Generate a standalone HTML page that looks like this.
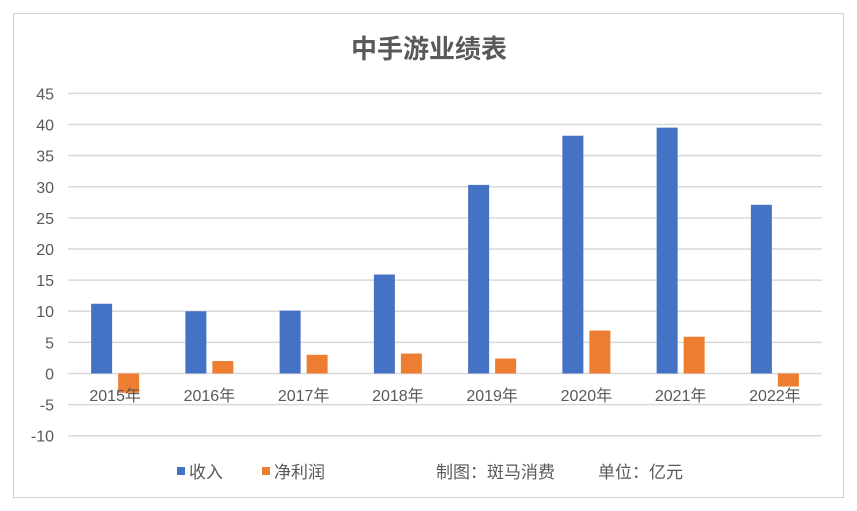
<!DOCTYPE html>
<html><head><meta charset="utf-8"><style>
body{margin:0;background:#fff;}
svg{display:block;font-family:"Liberation Sans","Noto Sans CJK SC",sans-serif;}
</style></head><body>
<svg width="857" height="511">
<rect x="13.5" y="13.5" width="830" height="484" fill="#fff" stroke="#d0d0d0"/>
<text x="429" y="58" text-anchor="middle" font-size="26" font-weight="bold" fill="#595959">中手游业绩表</text>
<g id="grid"></g>
<g id="bars"></g>
<g id="xl"></g>
<g>
<rect x="177" y="467" width="8" height="8" fill="#4472c4"/>
<text x="189" y="478" font-size="17" fill="#595959">收入</text>
<rect x="262" y="467" width="8" height="8" fill="#ed7d31"/>
<text x="274" y="478" font-size="17" fill="#595959">净利润</text>
<text x="436" y="478" font-size="17" fill="#595959">制图：斑马消费</text>
<text x="598" y="478" font-size="17" fill="#595959">单位：亿元</text>
</g>
</svg>
<script>
const categories=["2015年","2016年","2017年","2018年","2019年","2020年","2021年","2022年"];
const revenue=[11.2,10.0,10.1,15.9,30.3,38.2,39.5,27.1];
const profit=[-3.1,2.0,3.0,3.2,2.4,6.9,5.9,-2.1];
const yTicks=[-10,-5,0,5,10,15,20,25,30,35,40,45];
const NS="http://www.w3.org/2000/svg";
const x0=68,x1=822,yTop=93.4,yBot=435.7,vmin=-10,vmax=45;
const y=v=>yBot-(v-vmin)/(vmax-vmin)*(yBot-yTop);
const step=(x1-x0)/categories.length;
function mk(t,a,p){const e=document.createElementNS(NS,t);for(const k in a)e.setAttribute(k,a[k]);p.appendChild(e);return e;}
const g=document.getElementById('grid');
yTicks.forEach(v=>{
 const l=mk('line',{x1:x0,x2:x1,y1:y(v),y2:y(v),stroke:'#d9d9d9','stroke-width':1.5},g);
 
 
 const t=mk('text',{x:54,y:y(v)+6,'text-anchor':'end','font-size':16,fill:'#595959'},g);
 t.textContent=v;
 
 
});
const b=document.getElementById('bars'),xl=document.getElementById('xl');
categories.forEach((c,i)=>{
 const cx=x0+step*(i+0.5);
 const r=mk('rect',{x:cx-24,width:21,y:Math.min(y(revenue[i]),y(0)),height:Math.abs(y(revenue[i])-y(0)),fill:'#4472c4'},b);
 
 
 const p=mk('rect',{x:cx+3,width:21,y:Math.min(y(profit[i]),y(0)),height:Math.abs(y(profit[i])-y(0)),fill:'#ed7d31'},b);
 
 
 const t=mk('text',{x:cx,y:401,'text-anchor':'middle','font-size':16,fill:'#595959'},xl);
 t.textContent=c;
 
 
});
</script>
</body></html>
